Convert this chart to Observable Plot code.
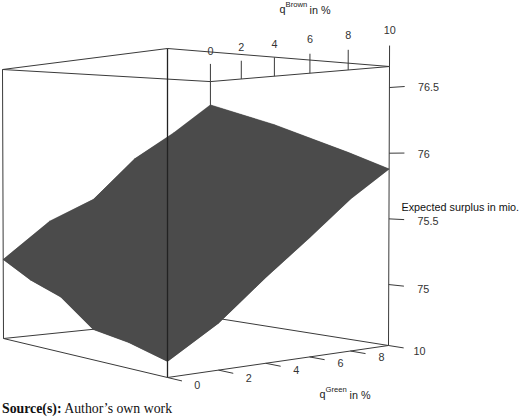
<!DOCTYPE html>
<html>
<head>
<meta charset="utf-8">
<script src="https://cdn.jsdelivr.net/npm/d3@7"></script>
<script src="https://cdn.jsdelivr.net/npm/@observablehq/plot@0.6"></script>
<style>
html,body{margin:0;padding:0;background:#fff}
svg{display:block}
#cap{font:13.8px/18px "Liberation Serif",serif;color:#111;padding-left:2px;height:18px;white-space:nowrap}
</style>
</head>
<body>
<div id="chart"></div>
<div id="cap"><b>Source(s):</b> Author’s own work</div>
<script>
// --- data: expected surplus (mio.)
const greenLevels = [0, 2, 4, 6, 8, 10];
const brownLevels = [0, 2, 4, 6, 8, 10];
const surplusGreen0  = [75.16, 75.03, 74.94, 74.75, 74.71, 74.64];
const surplusGreen2  = [75.45, 75.33, 75.22, 75.08, 74.97, 74.85];
const surplusGreen4  = [75.62, 75.56, 75.46, 75.35, 75.24, 75.13];
const surplusGreen6  = [75.96, 75.85, 75.72, 75.60, 75.50, 75.39];
const surplusGreen8  = [76.19, 76.08, 75.97, 75.86, 75.75, 75.66];
const surplusGreen10 = [76.45, 76.35, 76.25, 76.13, 76.01, 75.88];
const surplusRows = [surplusGreen0, surplusGreen2, surplusGreen4, surplusGreen6, surplusGreen8, surplusGreen10];
const surplusTicks = [75, 75.5, 76, 76.5];
const surplusTickLabels = ["75", "75.5", "76", "76.5"];
const surplusRange = [74.536, 76.66];
const greenRange = [0, 10], brownRange = [0, 10];

// --- perspective view of the box
const view = {
  du: 0.2, dv: 0.24,
  bottom: {n: [167, 377], r: [388, 345], l: [3, 338]},
  top:    {n: [167, 48],  r: [389, 66],  l: [2, 69]}
};
function face(f, u, v, i) {
  const a = f.r[i] * (1 + view.du) - f.n[i];
  const b = f.l[i] * (1 + view.dv) - f.n[i];
  return (f.n[i] + a * u + b * v) / (1 + view.du * u + view.dv * v);
}
// green, brown in %, w = height in the box (0 floor, 1 ceiling)
function project(green, brown, w) {
  const u = green / greenRange[1], v = 1 - brown / brownRange[1];
  return [0, 1].map(i => face(view.bottom, u, v, i) + w * (face(view.top, u, v, i) - face(view.bottom, u, v, i)));
}
const wOf = z => (z - surplusRange[0]) / (surplusRange[1] - surplusRange[0]);
const seg = (a, b) => { const p = project(...a), q = project(...b); return {x1: p[0], y1: p[1], x2: q[0], y2: q[1]}; };
const G = 10, B = 10;
const surfacePoint = (gi, bi) => {
  const p = project(greenLevels[gi], brownLevels[bi], wOf(surplusRows[gi][bi]));
  return {x: p[0], y: p[1]};
};

// surface quads
const quads = [];
greenLevels.slice(0, -1).forEach((g, i) => brownLevels.slice(0, -1).forEach((b, j) => {
  [[i, j], [i + 1, j], [i + 1, j + 1], [i, j + 1], [i, j]].forEach(([gi, bi]) => {
    quads.push({quad: i + "-" + j, ...surfacePoint(gi, bi)});
  });
}));
// silhouette of the same grid, laid over the quads to hide their seams
const last = greenLevels.length - 1;
const rim = [
  ...brownLevels.map((_, j) => surfacePoint(0, j)),
  ...greenLevels.map((_, i) => surfacePoint(i, last)),
  ...brownLevels.map((_, j) => surfacePoint(last, last - j)),
  ...greenLevels.map((_, i) => surfacePoint(last - i, 0))
];

const backEdges = [
  seg([0, 0, 0], [G, 0, 0]), seg([G, 0, 0], [G, B, 0]),
  seg([G, 0, 0], [G, 0, 1]), seg([0, 0, 1], [G, 0, 1]), seg([G, 0, 1], [G, B, 1])
];
const frontEdges = [
  seg([0, 0, 0], [0, 0, 1]), seg([G, B, 0], [G, B, 1]),
  seg([0, 0, 0], [0, B, 0]), seg([0, B, 0], [G, B, 0]),
  seg([0, 0, 1], [0, B, 1]), seg([0, B, 1], [G, B, 1])
];
const nearEdge = [seg([0, B, 0], [0, B, 1])];
const tickB = 1.075, tickBL = 1.128, tickV = 1.07, labV = 1.15, labZ = 1.13;
const ticks = [
  ...brownLevels.map(b => seg([G, b, 1], [G, b, tickB])),
  ...greenLevels.map(g => seg([g, B, 0], [g, B * tickV, 0])),
  ...surplusTicks.map(z => seg([G, B, wOf(z)], [G, B * tickV, wOf(z)]))
];
const brownLabels = brownLevels.map(b => { const p = project(G, b, tickBL); return {t: String(b), x: p[0], y: p[1]}; });
const greenLabels = greenLevels.map(g => { const p = project(g, B * labV, 0); return {t: String(g), x: p[0], y: p[1]}; });
const zLabels = surplusTicks.map((z, i) => { const p = project(G, B * labZ, wOf(z)); return {t: surplusTickLabels[i], x: p[0], y: p[1]}; });

const line = {x1: "x1", y1: "y1", x2: "x2", y2: "y2", stroke: "#3a3a3a", strokeWidth: 1};
const txt = {x: "x", y: "y", text: "t", fontSize: 10.8, fill: "#333"};
const free = (s, x, y, size, fill = "#222") => Plot.text([s], {frameAnchor: "top-left", dx: x, dy: y, lineAnchor: "middle", textAnchor: "start", fontSize: size, fill, text: d => d});

document.getElementById("chart").append(Plot.plot({
  width: 520, height: 400,
  margin: 0,
  style: {fontFamily: "'Liberation Sans', Arial, sans-serif", background: "#fff"},
  x: {type: "linear", domain: [0, 520], range: [0, 520], axis: null},
  y: {type: "linear", domain: [0, 400], range: [0, 400], axis: null},
  marks: [
    Plot.link(backEdges, line),
    Plot.line(quads, {x: "x", y: "y", z: "quad", fill: "#4b4b4b", stroke: "#4b4b4b", strokeWidth: 0.3, strokeLinejoin: "round"}),
    Plot.line(rim, {x: "x", y: "y", fill: "#4b4b4b", stroke: "#4b4b4b", strokeWidth: 0.3, strokeLinejoin: "round"}),
    Plot.link(frontEdges, line),
    Plot.link(nearEdge, {...line, stroke: "#222", strokeWidth: 1.3}),
    Plot.link(ticks, line),
    Plot.text(brownLabels, txt),
    Plot.text(greenLabels, {...txt, dx: -2, dy: 1}),
    Plot.text(zLabels, {...txt, textAnchor: "start", dy: 1.5}),
    free("Expected surplus in mio.", 401, 207.5, 10.8, "#111"),
    free("q", 279, 9, 10.8), free("Brown", 285, 4, 7.7), free("in %", 309, 10, 10.8),
    free("q", 319, 394, 10.8), free("Green", 325, 389, 7.7), free("in %", 349, 395, 10.8)
  ]
}));
</script>
</body>
</html>
